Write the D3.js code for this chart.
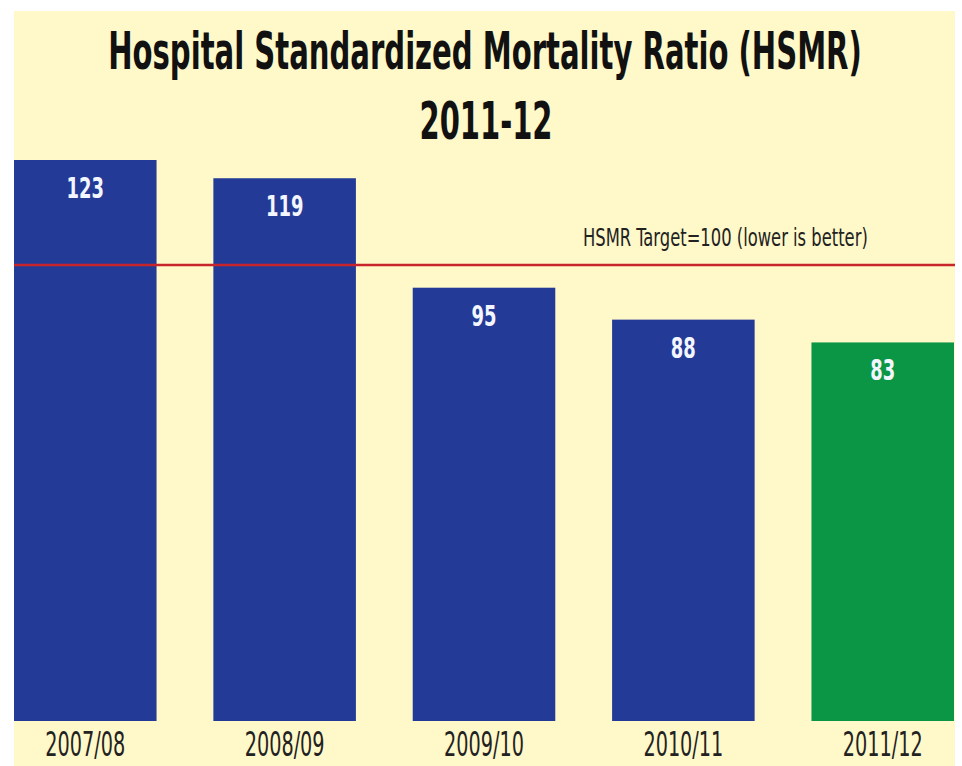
<!DOCTYPE html>
<html>
<head>
<meta charset="utf-8">
<script src="https://cdn.jsdelivr.net/npm/d3@7"></script>
<style>
  html, body { margin: 0; padding: 0; background: #fff; }
  svg { display: block; }
  text { font-family: 'Liberation Sans Narrow', 'DejaVu Sans Condensed', 'DejaVu Sans', sans-serif; }
</style>
</head>
<body>
<svg id="chart" width="962" height="766"></svg>
<script>
// chart data
const years = ['2007/08', '2008/09', '2009/10', '2010/11', '2011/12']
const hsmr = [123, 119, 95, 88, 83]
const barColors = ['#233b97', '#233b97', '#233b97', '#233b97', '#0b9646']
const target = 100
const targetLabel = 'HSMR Target=100 (lower is better)'
const titleLines = ['Hospital Standardized Mortality Ratio (HSMR)', '2011-12']

const panel = { left: 14, top: 11, right: 955, bottom: 766 }
const baseY = 721

const svg = d3.select('#chart')

// squeeze a text horizontally so it is w pixels wide (the source uses a condensed face)
const squeeze = (sel, w) => {
  sel.each(function () {
    const len = this.getComputedTextLength()
    const k = len > 0 ? w / len : 1
    d3.select(this).attr('transform', `scale(${k},1)`)
  })
}

svg.append('rect')
  .attr('x', panel.left)
  .attr('y', panel.top)
  .attr('width', panel.right - panel.left)
  .attr('height', panel.bottom - panel.top)
  .attr('fill', '#fff8c9')

const x = d3.scaleBand()
  .domain(years)
  .range([panel.left, 954])
  .paddingInner(0.285)
  .paddingOuter(0)

const y = d3.scaleLinear()
  .domain([0, 123])
  .range([baseY, 160])

// title
const title = svg.append('g')
title.append('g')
  .attr('transform', 'translate(485,69)')
  .append('text')
  .attr('text-anchor', 'middle')
  .attr('font-size', 51)
  .attr('font-weight', 'bold')
  .attr('fill', '#111')
  .text(titleLines[0])
  .call(squeeze, 754)

title.append('g')
  .attr('transform', 'translate(486,139)')
  .append('text')
  .attr('text-anchor', 'middle')
  .attr('font-size', 51)
  .attr('font-weight', 'bold')
  .attr('fill', '#111')
  .text(titleLines[1])
  .call(squeeze, 133)

// bars
const bars = svg.append('g')
bars.selectAll('rect')
  .data(hsmr)
  .enter().append('rect')
  .attr('x', (d, i) => x(years[i]))
  .attr('y', d => y(d))
  .attr('width', x.bandwidth())
  .attr('height', d => baseY - y(d))
  .attr('fill', (d, i) => barColors[i])

bars.selectAll('g.val')
  .data(hsmr)
  .enter().append('g')
  .attr('class', 'val')
  .attr('transform', (d, i) => `translate(${x(years[i]) + x.bandwidth() / 2},${y(d) + 38})`)
  .append('text')
  .attr('text-anchor', 'middle')
  .attr('font-size', 29)
  .attr('font-weight', 'bold')
  .attr('fill', '#f4f6ff')
  .text(d => d)
  .each(function (d) { d3.select(this).call(squeeze, String(d).length * 12.5) })

// target line
svg.append('line')
  .attr('x1', panel.left)
  .attr('x2', panel.right)
  .attr('y1', y(target))
  .attr('y2', y(target))
  .attr('stroke', '#c8242c')
  .attr('stroke-width', 2.5)

svg.append('g')
  .attr('transform', `translate(583,${y(target) - 19})`)
  .append('text')
  .attr('font-size', 24)
  .attr('fill', '#222')
  .text(targetLabel)
  .call(squeeze, 285)

// category axis
const axis = svg.append('g')
  .attr('transform', `translate(0,${baseY})`)
  .call(d3.axisBottom(x).tickSize(0).tickPadding(12))
axis.select('.domain').remove()
axis.selectAll('text')
  .attr('font-family', "'Liberation Sans Narrow', 'DejaVu Sans', sans-serif")
  .attr('font-size', 33)
  .attr('fill', '#222')
  .attr('dy', '0.71em')
  .call(squeeze, 80)
</script>
</body>
</html>
